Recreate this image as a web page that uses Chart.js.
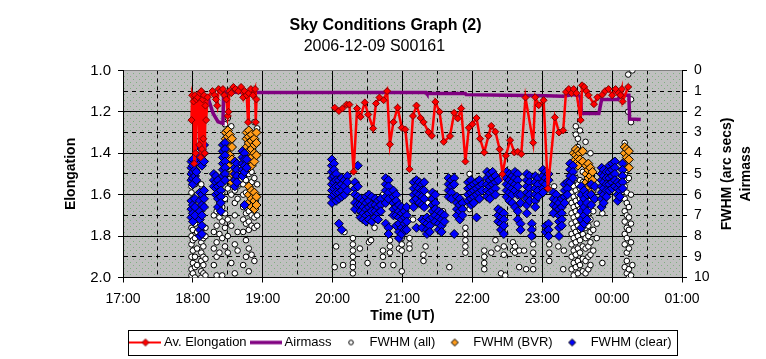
<!DOCTYPE html>
<html>
<head>
<meta charset="utf-8">
<script src="https://cdn.jsdelivr.net/npm/chart.js@4.4.0/dist/chart.umd.min.js"></script>
<style>
  html, body { margin: 0; padding: 0; background: #ffffff; }
</style>
</head>
<body>
<canvas id="sky-chart" width="766" height="359"></canvas>
<script>
// Sky conditions chart, 2006-12-09 S00161

const FONT = '"Liberation Sans", Arial, sans-serif';

// hour tick labels, x axis runs 17:00 -> 01:00 (hours after midnight of the 9th)
const hourLabels = ['17:00', '18:00', '19:00', '20:00', '21:00', '22:00', '23:00', '00:00', '01:00'];

// [time (h), elongation]
const avElongation = [
  [17.98, 1.24], [17.99, 1.12], [18.01, 1.15], [18.02, 1.45], [18.03, 1.12], [18.04, 1.40],
  [18.05, 1.14], [18.07, 1.13], [18.09, 1.36], [18.10, 1.11], [18.11, 1.42], [18.12, 1.10],
  [18.13, 1.38], [18.14, 1.14], [18.15, 1.33], [18.16, 1.12], [18.17, 1.40], [18.18, 1.17],
  [18.19, 1.24], [18.21, 1.13], [18.28, 1.10], [18.31, 1.12], [18.33, 1.14], [18.35, 1.17],
  [18.37, 1.09], [18.40, 1.10], [18.43, 1.09], [18.45, 1.12], [18.48, 1.14], [18.50, 1.22],
  [18.51, 1.20], [18.52, 1.10], [18.55, 1.11], [18.58, 1.08], [18.61, 1.09], [18.65, 1.10],
  [18.69, 1.08], [18.72, 1.13], [18.74, 1.10], [18.77, 1.12], [18.79, 1.25], [18.80, 1.11],
  [18.83, 1.09], [18.86, 1.12], [18.89, 1.09], [18.90, 1.25], [18.91, 1.14],
  [19.50, null],
  [20.03, 1.18], [20.09, 1.196], [20.14, 1.184], [20.20, 1.165], [20.24, 1.165], [20.30, 1.489],
  [20.35, 1.184], [20.40, 1.224], [20.46, 1.155], [20.51, 1.213], [20.58, 1.28], [20.62, 1.16],
  [20.67, 1.131], [20.73, 1.144], [20.78, 1.10], [20.82, 1.357], [20.87, 1.25], [20.93, 1.18],
  [20.99, 1.277], [21.04, 1.285], [21.10, 1.477], [21.15, 1.22], [21.20, 1.17], [21.26, 1.23],
  [21.30, 1.25], [21.37, 1.297], [21.42, 1.316], [21.47, 1.152], [21.53, 1.20], [21.59, 1.345],
  [21.68, 1.317], [21.74, 1.205], [21.79, 1.232], [21.84, 1.184], [21.90, 1.44], [21.95, 1.277],
  [22.00, 1.26], [22.06, 1.23], [22.11, 1.33], [22.17, 1.396], [22.23, 1.316], [22.27, 1.268],
  [22.33, 1.296], [22.39, 1.381], [22.43, 1.501], [22.48, 1.412], [22.54, 1.337], [22.60, 1.396],
  [22.65, 1.393], [22.70, 1.404], [22.76, 1.131], [22.87, 1.349], [22.90, 1.13], [22.95, 1.168],
  [23.02, 1.144], [23.08, 1.57], [23.18, 1.227], [23.24, 1.30], [23.30, 1.29], [23.34, 1.104],
  [23.38, 1.09], [23.42, 1.11], [23.45, 1.09], [23.49, 1.11], [23.55, 1.24], [23.57, 1.072],
  [23.60, 1.08], [23.63, 1.10], [23.66, 1.12], [23.74, 1.163], [23.79, 1.13], [23.86, 1.117],
  [23.90, 1.10], [23.95, 1.09], [24.00, 1.12], [24.05, 1.09], [24.09, 1.11], [24.12, 1.12],
  [24.14, 1.09], [24.15, 1.15], [24.23, 1.08]
];

// [time (h), airmass] on the right hand axis
const airmass = [
  [17.98, 2.32], [18.03, 2.24], [18.08, 1.68], [18.15, 1.20], [18.22, 1.36], [18.29, 2.08],
  [18.36, 2.48], [18.43, 2.56], [18.44, 1.04], [18.72, 1.07], [21.34, 1.07], [21.35, 1.12],
  [21.90, 1.12], [21.91, 1.17], [22.48, 1.20], [23.05, 1.22], [23.30, 1.25], [23.38, 1.20],
  [23.45, 1.17], [23.50, 1.22], [23.55, 1.25], [23.56, 2.08], [23.81, 2.08], [23.85, 1.40],
  [24.08, 1.41], [24.12, 1.20], [24.24, 1.20], [24.25, 2.35], [24.41, 2.37]
];

// each row: [time (h), fwhm, fwhm, ...]
const fwhmAllRows = [
  [17.98, 5.6, 5.9, 7.6, 8.0, 8.4, 9.0, 9.6, 9.9],
  [18.00, 7.7, 8.2, 8.7, 9.3, 9.8],
  [18.03, 5.5, 7.4, 8.1, 9.0, 9.5, 10.0],
  [18.06, 6.0, 7.8, 8.6, 9.4],
  [18.12, 5.5, 8.3, 8.8, 9.2, 9.7, 10.0],
  [18.15, 8.1, 8.5, 9.0, 9.4, 9.8],
  [18.18, 7.6, 8.0, 9.1, 9.9],
  [18.30, 7.0, 7.8, 8.6, 9.4],
  [18.34, 6.8, 7.5, 8.3, 9.0, 9.9],
  [18.38, 6.4, 7.1, 7.9, 8.8],
  [18.42, 5.9, 6.6, 7.3, 8.1, 9.9],
  [18.46, 2.6, 3.0, 6.2, 6.9, 7.6, 8.5],
  [18.50, 2.3, 5.0, 5.7, 7.2, 8.0, 8.8],
  [18.55, 2.7, 5.5, 6.0, 7.5, 9.3],
  [18.60, 5.8, 6.4, 7.0, 8.4, 9.8],
  [18.64, 5.6, 6.2, 7.8, 8.7],
  [18.72, 5.5, 6.0, 6.6, 7.2, 7.8, 9.4],
  [18.76, 5.3, 5.9, 6.9, 7.4, 8.2, 9.0],
  [18.80, 5.0, 6.8, 7.3, 7.7, 8.6, 9.7],
  [18.84, 4.9, 5.4, 7.0, 7.5, 8.9],
  [18.88, 2.5, 5.2, 7.1, 7.6, 9.2],
  [18.92, 2.8, 5.5, 7.0, 7.5],
  [20.03, 9.5], [20.05, 8.5], [20.15, 9.4], [20.17, 7.8],
  [20.29, 8.1, 8.4, 8.7, 9.0, 9.3, 9.5, 9.8],
  [20.34, 6.2, 6.8], [20.39, 8.6], [20.50, 9.3], [20.52, 8.3], [20.55, 8.2], [20.60, 7.6],
  [20.72, 6.0, 6.4, 8.7, 9.0, 9.4],
  [20.82, 8.2, 8.5, 8.8], [20.87, 9.4], [20.95, 8.6],
  [20.99, 8.1, 8.4, 8.7, 9.7],
  [21.10, 8.1, 8.4, 8.6], [21.15, 7.2], [21.30, 8.9, 9.2], [21.33, 8.5], [21.36, 6.0, 6.4],
  [21.58, 6.8, 7.1], [21.67, 9.5],
  [21.90, 7.6, 7.9, 8.2, 8.5, 8.8],
  [21.96, 5.0, 5.5, 6.3, 6.7],
  [22.17, 8.7, 9.0, 9.3, 9.6],
  [22.27, 8.8], [22.33, 8.2], [22.36, 8.6], [22.41, 9.8], [22.45, 8.5, 8.9], [22.47, 9.9],
  [22.58, 8.3, 8.7], [22.61, 8.5, 8.8], [22.67, 8.7, 9.5], [22.74, 8.7], [22.77, 9.6],
  [22.87, 7.6, 8.0, 8.4, 8.8, 9.2, 9.6],
  [23.10, 8.0, 8.4, 8.8, 9.2], [23.17, 5.6], [23.23, 8.5], [23.30, 9.6], [23.31, 8.7],
  [23.42, 5.4, 5.9, 6.4, 6.9, 7.4, 7.9, 8.4, 9.0, 9.6],
  [23.45, 5.6, 6.1, 6.6, 7.1, 7.6, 8.1, 8.7, 9.3, 9.9],
  [23.48, 2.7, 3.1, 5.2, 5.8, 6.3, 6.8, 7.3, 7.8, 8.3, 8.9, 9.5],
  [23.51, 3.3, 3.7, 5.5, 6.0, 6.5, 7.0, 7.5, 8.0, 8.6, 9.2, 9.8],
  [23.54, 2.9, 5.3, 5.7, 6.2, 6.7, 7.2, 7.7, 8.2, 8.8, 9.4],
  [23.58, 4.9, 5.4, 5.9, 6.4, 6.9, 7.4, 7.9, 8.5, 9.1, 9.7],
  [23.62, 3.45, 5.6, 6.1, 6.6, 7.1, 7.6, 8.1, 8.6, 9.2, 9.8],
  [23.66, 5.7, 6.3, 6.9, 7.5, 8.0, 8.5, 9.0, 9.6],
  [23.69, 4.0, 6.0, 6.6, 7.2, 7.8, 8.3, 8.9, 9.4],
  [23.73, 5.8, 6.8, 7.7, 8.7],
  [23.78, 7.4, 8.1], [23.86, 6.9, 9.3],
  [24.18, 3.5, 5.0, 5.6, 6.2, 6.8, 7.3, 7.9, 8.4, 9.5],
  [24.21, 4.8, 5.3, 5.9, 6.4, 7.0, 7.6, 8.1, 8.8, 9.2, 9.8],
  [24.23, 0.2, 2.0],
  [24.24, 5.2, 6.6, 7.1, 7.7, 8.6, 9.6, 10.0],
  [24.27, 1.4, 2.5, 6.0, 7.4, 8.3, 9.9],
  [24.29, 0.0, 9.4]
];

const fwhmBvrRows = [
  [18.47, 3.0, 3.3, 3.6, 4.0, 4.4],
  [18.50, 2.9, 3.2, 3.5, 3.8, 4.2, 4.6],
  [18.53, 3.1, 3.4, 3.7, 4.1],
  [18.56, 3.3, 3.7, 4.3, 5.0, 5.4],
  [18.77, 3.0, 3.3, 3.7, 4.1, 4.5],
  [18.80, 2.9, 3.2, 3.5, 3.9, 4.3, 4.7, 5.6, 6.0, 6.4],
  [18.84, 3.1, 3.4, 3.8, 4.2, 4.6, 5.8, 6.2, 6.6],
  [18.88, 3.3, 3.6, 4.0, 4.4, 5.9, 6.3, 6.7],
  [18.91, 3.0, 3.5, 4.1, 6.1, 6.5],
  [23.45, 4.0, 4.4],
  [23.48, 3.8, 4.1, 4.5],
  [23.51, 3.9, 4.2, 4.6],
  [23.54, 4.0, 4.3],
  [23.58, 3.9, 4.4],
  [23.63, 4.6, 5.0, 5.4, 5.8],
  [23.66, 4.5, 4.8, 5.2, 5.6],
  [23.69, 4.7, 5.1, 5.5, 5.9],
  [23.72, 4.9, 5.3],
  [24.18, 3.7, 4.0, 4.4],
  [24.21, 3.8, 4.2, 4.6],
  [24.24, 3.9, 4.3, 4.7]
];

const fwhmClearRows = [
  [17.98, 4.4, 4.7, 5.0, 5.3, 6.3, 6.7, 7.1],
  [18.00, 4.3, 4.6, 4.9, 5.2, 5.5, 6.5, 6.9, 7.3],
  [18.03, 4.5, 4.8, 5.1, 6.2, 6.6, 7.0],
  [18.05, 4.4, 4.9, 5.3],
  [18.10, 3.7, 4.1, 4.5, 5.9, 6.3, 6.8, 7.2, 7.7, 8.0],
  [18.13, 3.3, 3.8, 4.3, 4.6, 6.0, 6.5, 7.0, 7.5, 7.9],
  [18.16, 3.6, 4.0, 4.4, 5.8, 6.2, 6.6],
  [18.30, 5.0, 5.3, 5.6],
  [18.33, 5.1, 5.4, 5.7, 6.0],
  [18.36, 5.3, 5.6, 5.9, 6.2, 6.6],
  [18.40, 5.5, 5.8, 6.1, 6.4, 6.8],
  [18.43, 3.6, 3.9, 4.2, 4.5, 4.8, 5.1],
  [18.46, 3.5, 3.8, 4.1, 4.4, 4.7, 5.0, 5.3],
  [18.60, 4.4, 4.7, 5.0, 5.3, 5.6],
  [18.63, 4.5, 4.8, 5.1, 5.4],
  [18.71, 3.9, 4.2, 4.5, 4.8, 5.1],
  [18.74, 4.0, 4.3, 4.6, 4.9, 6.5],
  [18.77, 4.3, 4.7],
  [19.99, 4.3, 4.6, 4.9, 5.2, 5.5, 5.8, 6.1, 6.4],
  [20.02, 4.5, 4.8, 5.1, 5.4, 5.7, 6.0],
  [20.05, 5.0, 5.3, 5.6, 5.9, 6.3],
  [20.09, 5.3, 5.6, 5.9, 6.2, 7.4],
  [20.13, 5.2, 5.5, 5.8, 6.1, 7.7],
  [20.17, 5.3, 5.6, 6.0],
  [20.21, 5.1, 5.4, 5.8],
  [20.32, 5.4, 5.7, 6.0, 6.4, 6.7],
  [20.36, 4.6, 5.6, 6.1, 6.5],
  [20.40, 6.2, 6.5, 6.8, 7.1],
  [20.44, 6.3, 6.6, 6.9, 7.2],
  [20.48, 6.1, 6.4, 6.7, 7.0, 7.3],
  [20.52, 6.0, 6.3, 6.6, 6.9, 7.2],
  [20.56, 6.1, 6.5, 6.8, 7.3],
  [20.61, 6.2, 6.5, 6.8, 7.1],
  [20.65, 6.3, 6.6, 6.9, 7.2],
  [20.69, 6.2, 6.5, 6.8],
  [20.76, 5.2, 5.5, 5.8, 6.1, 6.4, 7.4],
  [20.80, 5.3, 5.6, 5.9, 6.2, 7.6, 7.9],
  [20.87, 5.8, 6.1, 6.4, 6.7, 7.0],
  [20.91, 6.0, 6.3, 6.6, 7.0, 7.5],
  [20.95, 6.5, 6.8, 7.1, 7.4, 7.8, 8.1],
  [20.99, 6.6, 6.9, 7.2, 7.6, 7.9],
  [21.03, 6.8, 7.1, 7.4, 7.7],
  [21.06, 6.6, 7.0, 7.3, 7.7],
  [21.16, 5.4, 5.7, 6.0, 6.3, 6.6],
  [21.20, 5.3, 5.6, 5.9, 6.2, 7.6],
  [21.24, 5.4, 5.7, 6.0, 6.4],
  [21.28, 5.5, 5.8, 6.1, 6.5, 7.2, 7.6],
  [21.31, 5.4, 5.8, 6.2, 6.6, 7.3],
  [21.35, 7.1, 7.4, 7.7, 7.9],
  [21.39, 7.2, 7.5, 7.8],
  [21.43, 5.9, 6.2, 6.5, 6.8, 7.1],
  [21.47, 6.0, 6.4, 6.7, 7.0, 7.3],
  [21.52, 6.8, 7.1, 7.4, 7.7],
  [21.56, 6.9, 7.2, 7.5, 7.8],
  [21.60, 7.0, 7.3],
  [21.66, 5.2, 5.5, 5.8, 6.1],
  [21.70, 5.3, 5.6, 5.9, 6.2],
  [21.74, 5.2, 5.5, 7.9],
  [21.78, 6.1, 6.4, 6.7, 7.0],
  [21.82, 6.2, 6.5, 6.8, 7.2],
  [21.86, 6.4, 6.7, 7.0],
  [21.94, 5.4, 5.7, 6.0, 6.3],
  [21.98, 5.3, 5.6, 5.9, 6.2, 6.5],
  [22.02, 5.5, 5.8, 6.1, 6.4],
  [22.06, 5.4, 5.7, 6.0, 7.1],
  [22.10, 5.3, 5.6, 5.9, 6.2],
  [22.14, 5.5, 5.8],
  [22.21, 4.9, 5.2, 5.5, 5.8, 6.1],
  [22.25, 5.0, 5.3, 5.6, 5.9, 6.2],
  [22.29, 4.9, 5.2, 5.5, 5.8],
  [22.33, 5.1, 5.4, 5.7, 6.0],
  [22.37, 5.3, 6.7, 7.0, 7.3],
  [22.41, 6.8, 7.1, 7.4, 7.7],
  [22.45, 6.9, 7.2, 7.5, 7.9],
  [22.49, 4.9, 5.2, 5.5, 5.8, 6.1],
  [22.53, 5.0, 5.3, 5.6, 5.9, 6.3],
  [22.57, 5.1, 5.4, 5.7, 6.0, 6.4],
  [22.61, 4.9, 5.2, 5.5, 5.8, 6.6],
  [22.65, 5.0, 5.3, 5.6, 6.0, 6.8, 7.2],
  [22.69, 6.0, 6.4, 7.4, 7.7],
  [22.78, 5.0, 5.3, 5.6, 5.9, 6.2, 6.5, 6.9],
  [22.82, 5.1, 5.4, 5.7, 6.0, 6.3],
  [22.85, 7.4, 7.7, 8.0],
  [22.90, 5.1, 5.4, 5.7, 6.0, 6.3, 6.6],
  [22.94, 5.2, 5.5, 5.8, 6.1],
  [23.01, 4.8, 5.1, 5.4, 5.7, 5.9],
  [23.05, 4.9, 5.2, 5.5, 7.5, 7.8],
  [23.09, 5.0, 5.3, 7.4, 7.7, 8.0],
  [23.16, 5.9, 6.2, 6.5, 6.9],
  [23.20, 6.0, 6.3, 6.6],
  [23.24, 6.4, 6.7, 7.0, 7.3, 7.6, 8.0],
  [23.28, 6.2, 6.6, 6.9, 7.2, 7.5],
  [23.32, 5.5, 5.8, 6.1, 6.4],
  [23.36, 5.4, 5.7, 6.0],
  [23.40, 4.5, 4.8, 5.1, 5.4],
  [23.44, 4.6, 4.9, 5.2],
  [23.56, 5.6, 6.0, 6.4, 6.8, 7.2, 7.6],
  [23.60, 5.8, 6.2, 6.6, 7.0, 7.4],
  [23.64, 6.0, 6.4, 6.8, 7.2],
  [23.70, 5.5, 6.0, 6.5],
  [23.75, 5.6, 6.2],
  [23.85, 4.7, 5.0, 5.3, 5.6, 5.9, 6.2, 6.6],
  [23.88, 4.8, 5.1, 5.4, 5.7, 6.0, 6.4],
  [23.92, 4.9, 5.2, 5.5, 5.8, 6.1],
  [23.96, 4.6, 4.9, 5.2, 5.5, 5.8],
  [24.00, 4.5, 4.8, 5.1, 5.4, 5.7],
  [24.04, 4.4, 4.7, 5.0, 5.3, 5.6],
  [24.08, 5.4, 5.7, 6.0, 6.3],
  [24.11, 5.5, 5.8, 6.1],
  [24.15, 4.5, 4.8, 5.1, 5.4, 5.7]
];

// helpers

function pairsToPoints(pairs) {
    return pairs.map(function (p) { return { x: p[0], y: p[1] }; });
}

function rowsToPoints(rows) {
    var pts = [];
    for (let i = 0; i < rows.length; i++) {
        const row = rows[i];
        for (let j = 1; j < row.length; j++) {
            pts.push({ x: row[0], y: row[j] });
        }
    }
    return pts;
}

function isHalf(v) {
    return Math.abs(v - Math.round(v)) > 0.01;
}

function isOddTenth(v) {
    return Math.round(v * 10) % 2 === 1;
}

// small canvases used as legend symbols
function legendIcon(kind) {
    const c = document.createElement('canvas');
    c.width = kind === 'line' || kind === 'lineMarker' ? 32 : 10;
    c.height = 10;
    const g = c.getContext('2d');
    if (kind === 'lineMarker') {
        g.strokeStyle = '#ff0000';
        g.lineWidth = 2;
        g.beginPath(); g.moveTo(0, 5); g.lineTo(32, 5); g.stroke();
        diamond(g, 16, 5, 3.5, '#ff0000', '#800000');
    } else if (kind === 'line') {
        g.strokeStyle = '#800080';
        g.lineWidth = 3.5;
        g.beginPath(); g.moveTo(0, 5); g.lineTo(32, 5); g.stroke();
    } else if (kind === 'circle') {
        g.fillStyle = '#ffffff';
        g.strokeStyle = '#000000';
        g.lineWidth = 1;
        g.beginPath(); g.arc(5, 5, 2.3, 0, Math.PI * 2); g.fill(); g.stroke();
    } else {
        diamond(g, 5, 5, 3.5, kind, '#000000');
    }
    return c;
}

function diamond(g, x, y, r, fill, stroke) {
    g.beginPath();
    g.moveTo(x - r, y); g.lineTo(x, y - r); g.lineTo(x + r, y); g.lineTo(x, y + r);
    g.closePath();
    g.fillStyle = fill; g.fill();
    g.strokeStyle = stroke; g.lineWidth = 1; g.stroke();
}

const legendIcons = [
    legendIcon('lineMarker'),
    legendIcon('line'),
    legendIcon('circle'),
    legendIcon('#ff9c1a'),
    legendIcon('#0000ff')
];

// plot background (grey with green stipple), legend frame and right axis titles
const chartDecor = {
    id: 'chartDecor',
    beforeDraw(chart) {
        const ctx = chart.ctx;
        const a = chart.chartArea;
        ctx.save();
        ctx.fillStyle = '#ffffff';
        ctx.fillRect(0, 0, chart.width, chart.height);
        const tile = document.createElement('canvas');
        tile.width = 6; tile.height = 6;
        const tg = tile.getContext('2d');
        tg.fillStyle = '#c0c0c0';
        tg.fillRect(0, 0, 6, 6);
        tg.fillStyle = '#7fb07f';
        tg.fillRect(1, 1, 1, 1);
        tg.fillRect(4, 4, 1, 1);
        ctx.fillStyle = ctx.createPattern(tile, 'repeat');
        ctx.fillRect(a.left, a.top, a.right - a.left, a.bottom - a.top);
        ctx.restore();
    },
    afterDraw(chart) {
        const ctx = chart.ctx;
        const boxes = chart.legend.legendHitBoxes;
        ctx.save();
        if (boxes && boxes.length) {
            const first = boxes[0];
            const last = boxes[boxes.length - 1];
            ctx.strokeStyle = '#000000';
            ctx.lineWidth = 1;
            ctx.strokeRect(Math.round(first.left) - 4.5, Math.round(first.top) - 5.5,
                Math.round(last.left + last.width - first.left) + 11, 25);
        }
        const y2 = chart.scales.y2;
        const cy = (chart.chartArea.top + chart.chartArea.bottom) / 2;
        ctx.font = 'bold 14px ' + FONT;
        ctx.fillStyle = '#000000';
        ctx.textAlign = 'center';
        ctx.textBaseline = 'middle';
        ctx.translate(y2.left + 45, cy);
        ctx.rotate(-Math.PI / 2);
        ctx.fillText('FWHM (arc secs)', 0, 0);
        ctx.fillText('Airmass', 0, 19);
        ctx.restore();
    }
};

function buildChart() {
    const ctx = document.getElementById('sky-chart').getContext('2d');

    const data = {
        datasets: [
            {
                label: 'Av. Elongation',
                data: pairsToPoints(avElongation),
                yAxisID: 'y',
                showLine: true,
                spanGaps: false,
                borderColor: '#ff0000',
                borderWidth: 2.5,
                tension: 0,
                pointStyle: 'rectRot',
                pointRadius: 3.5,
                pointBackgroundColor: '#ff0000',
                pointBorderColor: '#800000',
                pointBorderWidth: 1,
                order: 0
            },
            {
                label: 'Airmass',
                data: pairsToPoints(airmass),
                yAxisID: 'y2',
                showLine: true,
                borderColor: '#800080',
                borderWidth: 3.5,
                tension: 0,
                pointRadius: 0,
                order: 1
            },
            {
                label: 'FWHM (all)',
                data: rowsToPoints(fwhmAllRows),
                yAxisID: 'y2',
                pointStyle: 'circle',
                pointRadius: 2.8,
                pointBackgroundColor: '#ffffff',
                pointBorderColor: '#000000',
                pointBorderWidth: 1,
                order: 4
            },
            {
                label: 'FWHM (BVR)',
                data: rowsToPoints(fwhmBvrRows),
                yAxisID: 'y2',
                pointStyle: 'rectRot',
                pointRadius: 4.5,
                pointBackgroundColor: '#ff9c1a',
                pointBorderColor: '#000000',
                pointBorderWidth: 1,
                order: 3
            },
            {
                label: 'FWHM (clear)',
                data: rowsToPoints(fwhmClearRows),
                yAxisID: 'y2',
                pointStyle: 'rectRot',
                pointRadius: 4.5,
                pointBackgroundColor: '#0000ff',
                pointBorderColor: '#000022',
                pointBorderWidth: 1,
                order: 2
            }
        ]
    };

    const config = {
        type: 'scatter',
        data: data,
        plugins: [chartDecor],
        options: {
            responsive: false,
            animation: false,
            layout: { padding: { left: 5, right: 0, top: 0, bottom: 0 } },
            scales: {
                x: {
                    type: 'linear',
                    position: 'bottom',
                    min: 17,
                    max: 25,
                    afterFit: function (scale) { scale.height = 51; },
                    ticks: {
                        stepSize: 0.5,
                        autoSkip: false,
                        maxRotation: 0,
                        padding: 8,
                        color: '#000000',
                        font: { family: FONT, size: 14 },
                        callback: function (v) {
                            return isHalf(v) ? '' : hourLabels[Math.round(v - 17)];
                        }
                    },
                    grid: {
                        color: '#000000',
                        lineWidth: 1,
                        tickLength: 5,
                        tickColor: function (c) {
                            return c.tick && isHalf(c.tick.value) ? 'rgba(0,0,0,0)' : '#000000';
                        }
                    },
                    border: {
                        color: '#000000',
                        dash: function (c) {
                            return c.tick && isHalf(c.tick.value) ? [4, 4] : [];
                        }
                    },
                    title: {
                        display: true,
                        text: 'Time (UT)',
                        color: '#000000',
                        font: { family: FONT, size: 14, weight: 'bold' },
                        padding: { top: 0, bottom: 4 }
                    }
                },
                y: {
                    type: 'linear',
                    position: 'left',
                    reverse: true,
                    min: 1,
                    max: 2,
                    afterFit: function (scale) { scale.width = 118; },
                    ticks: {
                        stepSize: 0.1,
                        autoSkip: false,
                        padding: 7,
                        color: '#000000',
                        font: { family: FONT, size: 15 },
                        callback: function (v) {
                            return isOddTenth(v) ? '' : v.toFixed(1);
                        }
                    },
                    grid: {
                        color: function (c) {
                            return c.tick && Math.abs(c.tick.value - 1) < 0.001 ? '#808080' : '#000000';
                        },
                        lineWidth: 1,
                        tickLength: 5,
                        tickColor: function (c) {
                            return c.tick && isOddTenth(c.tick.value) ? 'rgba(0,0,0,0)' : '#000000';
                        }
                    },
                    border: {
                        color: '#000000',
                        dash: function (c) {
                            return c.tick && isOddTenth(c.tick.value) ? [4, 4] : [];
                        }
                    },
                    title: {
                        display: true,
                        text: 'Elongation',
                        color: '#000000',
                        font: { family: FONT, size: 14, weight: 'bold' },
                        padding: { top: 58, bottom: 0 }
                    }
                },
                y2: {
                    type: 'linear',
                    position: 'right',
                    reverse: true,
                    min: 0,
                    max: 10,
                    afterFit: function (scale) { scale.width = 84; },
                    ticks: {
                        stepSize: 1,
                        autoSkip: false,
                        padding: 7,
                        color: '#000000',
                        font: { family: FONT, size: 14 }
                    },
                    grid: {
                        drawOnChartArea: false,
                        color: '#000000',
                        tickLength: 5
                    },
                    border: { color: '#000000' }
                }
            },
            plugins: {
                title: {
                    display: true,
                    text: 'Sky Conditions Graph (2)',
                    color: '#000000',
                    font: { family: FONT, size: 16, weight: 'bold' },
                    padding: { top: 16, bottom: 0 }
                },
                subtitle: {
                    display: true,
                    text: '2006-12-09 S00161     ',
                    color: '#000000',
                    font: { family: FONT, size: 16 },
                    padding: { top: 2, bottom: 14 }
                },
                legend: {
                    position: 'bottom',
                    fullSize: false,
                    labels: {
                        color: '#000000',
                        font: { family: FONT, size: 13 },
                        usePointStyle: true,
                        pointStyleWidth: 24,
                        padding: 7.5,
                        generateLabels: function (chart) {
                            return chart.data.datasets.map(function (ds, i) {
                                return {
                                    text: ds.label,
                                    datasetIndex: i,
                                    pointStyle: legendIcons[i],
                                    fillStyle: '#ffffff',
                                    strokeStyle: '#000000',
                                    lineWidth: 0,
                                    hidden: false,
                                    fontColor: '#000000'
                                };
                            });
                        }
                    }
                },
                tooltip: { enabled: false }
            }
        }
    };

    new Chart(ctx, config);
}

buildChart();
</script>
</body>
</html>
